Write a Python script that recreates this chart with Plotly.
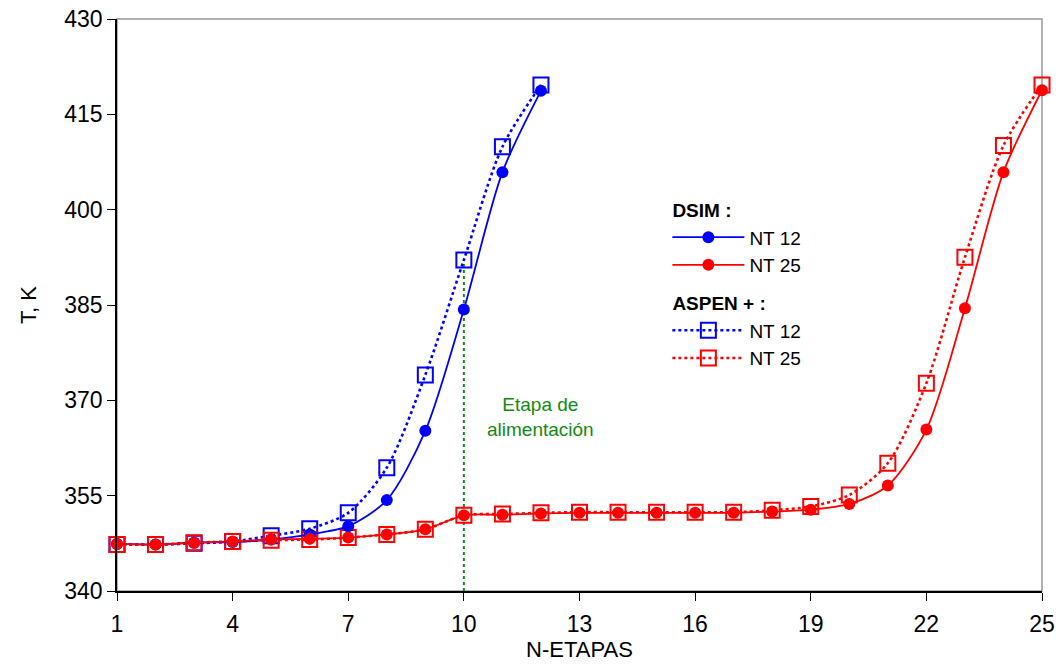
import plotly.graph_objects as go

# Stage numbers
etapas_12 = list(range(1, 13))
etapas_25 = list(range(1, 26))

# Temperature profiles (K)
dsim_nt12 = [347.4, 347.3, 347.6, 347.7, 348.1, 348.9, 350.2, 354.3, 365.2, 384.3, 405.9, 418.7]
dsim_nt25 = [347.4, 347.3, 347.6, 347.8, 348.1, 348.2, 348.4, 348.9, 349.7, 351.9, 352.0, 352.2,
             352.3, 352.3, 352.3, 352.3, 352.3, 352.5, 352.8, 353.7, 356.6, 365.4, 384.5, 405.9, 418.8]
aspen_nt12 = [347.3, 347.3, 347.5, 347.8, 348.7, 349.8, 352.3, 359.4, 374.0, 392.1, 409.9, 419.6]
aspen_nt25 = [347.3, 347.3, 347.6, 347.8, 348.0, 348.1, 348.4, 348.9, 349.7, 351.9, 352.1, 352.3,
              352.4, 352.4, 352.4, 352.4, 352.4, 352.7, 353.3, 355.1, 360.1, 372.7, 392.5, 410.1, 419.6]

x_ticks = [1, 4, 7, 10, 13, 16, 19, 22, 25]
y_ticks = [340, 355, 370, 385, 400, 415, 430]
feed_stage = 10

BLUE = "#0000ff"
RED = "#ff0000"
GREEN = "#138a13"
FONT = "Liberation Sans, Arial, sans-serif"

fig = go.Figure()

# Feed stage marker line
fig.add_trace(go.Scatter(
    x=[feed_stage, feed_stage], y=[340, aspen_nt12[feed_stage - 1]],
    mode="lines", line=dict(color=GREEN, width=2, dash="dot"),
    showlegend=False, hoverinfo="skip", cliponaxis=False,
))

def add_series(x, y, color, group, title, name, simulated, rank):
    if simulated:
        line = dict(color=color, width=1.8, shape="spline", smoothing=0.8)
        marker = dict(symbol="circle", size=12, color=color)
    else:
        line = dict(color=color, width=2.6, dash="dot", shape="spline", smoothing=0.8)
        marker = dict(symbol="square-open", size=15, color=color, line=dict(width=2, color=color))
    fig.add_trace(go.Scatter(
        x=x, y=y, mode="lines+markers", name=name,
        line=line, marker=marker, legendrank=rank,
        legendgroup=group,
        legendgrouptitle=dict(text=title, font=dict(size=19, family=FONT, color="black")),
        cliponaxis=False,
    ))

# ASPEN results first so the simulated markers sit on top
add_series(etapas_12, aspen_nt12, BLUE, "aspen", "<b>ASPEN + :</b>", "NT 12", False, 3)
add_series(etapas_25, aspen_nt25, RED, "aspen", "<b>ASPEN + :</b>", "NT 25", False, 4)
add_series(etapas_12, dsim_nt12, BLUE, "dsim", "<b>DSIM :</b>", "NT 12", True, 1)
add_series(etapas_25, dsim_nt25, RED, "dsim", "<b>DSIM :</b>", "NT 25", True, 2)

# Plot-area frame (top and right in grey)
fig.add_shape(type="rect", xref="paper", yref="paper", x0=0, y0=0, x1=1, y1=1,
              line=dict(color="#999999", width=1.5), layer="below")

fig.add_annotation(
    x=12.0, y=367.3, xref="x", yref="y",
    text="Etapa de<br>alimentación", showarrow=False,
    font=dict(size=19, family=FONT, color=GREEN), align="center",
)

fig.update_layout(
    width=1062, height=669,
    margin=dict(l=117, r=20, t=19, b=78),
    paper_bgcolor="white", plot_bgcolor="white",
    font=dict(family=FONT, color="black"),
    legend=dict(
        x=0.595, y=0.70, xanchor="left", yanchor="top",
        traceorder="grouped", tracegroupgap=10,
        font=dict(size=19, family=FONT, color="black"),
        bgcolor="rgba(0,0,0,0)", itemwidth=72,
    ),
    xaxis=dict(
        range=[1, 25], tickvals=x_ticks, ticktext=[str(v) for v in x_ticks],
        showgrid=False, zeroline=False, showline=True, linecolor="black", linewidth=1.5,
        ticks="outside", ticklen=8, tickcolor="black", ticklabelstandoff=4,
        tickfont=dict(size=23, family=FONT), automargin="bottom",
        title=dict(text="N-ETAPAS", font=dict(size=22, family=FONT), standoff=4),
    ),
    yaxis=dict(
        range=[340, 430], tickvals=y_ticks,
        showgrid=False, zeroline=False, showline=True, linecolor="black", linewidth=1.5,
        ticks="outside", ticklen=8, tickcolor="black",
        tickfont=dict(size=23, family=FONT), automargin="left",
        title=dict(text="T, K", font=dict(size=22, family=FONT), standoff=22),
    ),
)

fig.write_html("out.html")
